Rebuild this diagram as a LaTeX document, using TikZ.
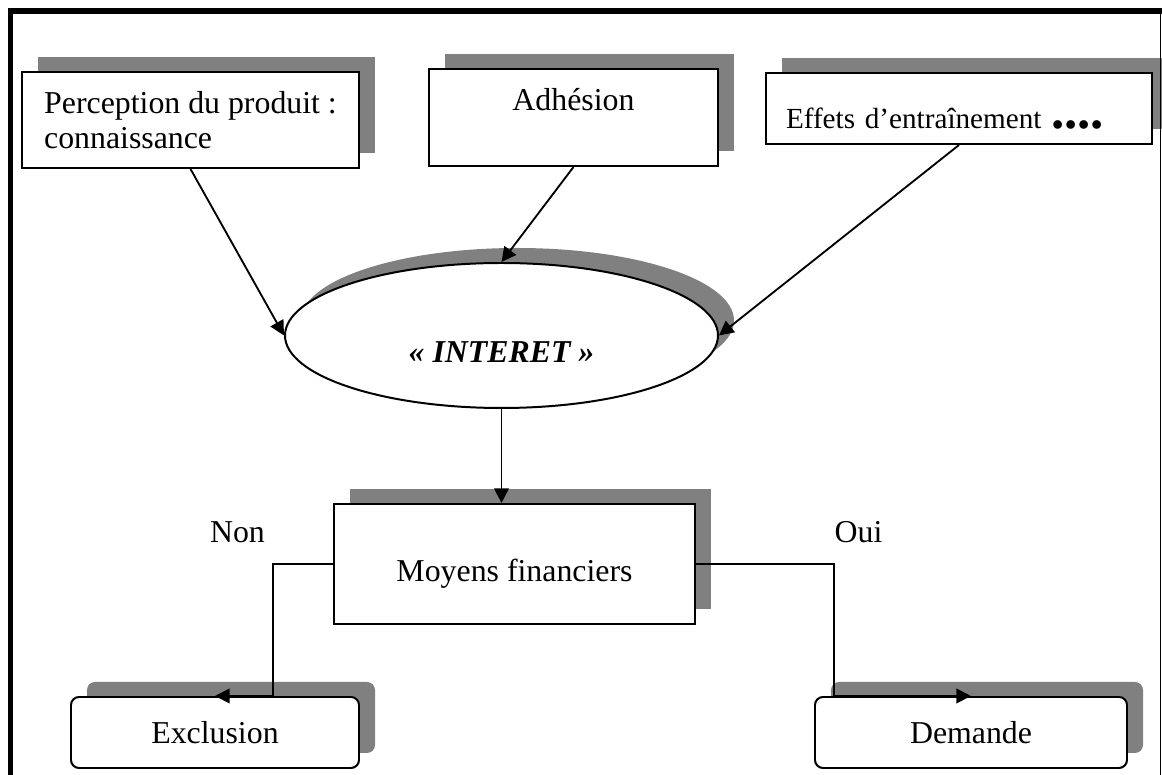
\documentclass[tikz,border=0pt]{standalone}
\usepackage{fontspec}
\setmainfont{Liberation Serif}
\usetikzlibrary{shapes.geometric,shadows,arrows.meta}
\newdimen\px \px=0.377pt
\tikzset{
  shadowed/.style = {draw, line width=0.75pt, fill=white,
    drop shadow={shadow xshift=16\px, shadow yshift=15\px, fill=gray, opacity=1}},
  topbox/.style = {shadowed, rectangle, inner xsep=20\px, inner ysep=0pt},
  endbox/.style = {shadowed, rectangle, rounded corners=8\px, minimum height=71\px},
  link/.style = {line width=0.7pt, -{Triangle[length=5.5pt,width=5.5pt]}},
}
\begin{document}
\begin{tikzpicture}[x=0.377pt, y=-0.377pt, font=\fontsize{12}{13.2}\selectfont]
            \useasboundingbox (0,0) rectangle (1162,775);
            \node[topbox, minimum width=337\px, minimum height=96\px, align=left] (perception) at (190.5,120) {Perception du produit :\\connaissance};
            \node[topbox, minimum width=289\px, minimum height=97\px, text height=8.5pt, text depth=14pt] (adhesion) at (573.5,117.5) {Adhésion};
            \node[topbox, text width=346\px, minimum height=71\px, align=left, text height=14.8pt, text depth=0pt, font=\fontsize{11}{13}\selectfont] (effets) at (959,108.5) {Effets d'entraînement {\fontsize{20}{20}\selectfont\bfseries ....}};
            \node[shadowed, ellipse, minimum width=433\px, minimum height=145\px, text height=20pt, text depth=0pt, font=\fontsize{12}{13.2}\selectfont\bfseries\itshape] (interet) at (501.5,335.5) {« INTERET »};
            \node[shadowed, rectangle, minimum width=361\px, minimum height=120\px, text height=16pt, text depth=2.6pt] (moyens) at (514.5,564) {Moyens financiers};
            \node[endbox, minimum width=288\px] (exclusion) at (215,732.5) {Exclusion};
            \node[endbox, minimum width=312\px] (demande) at (971,732.5) {Demande};
            \node[anchor=base] (non) at (237.5,543) {Non};
            \node[anchor=base] (oui) at (858.5,543) {Oui};
            \draw[link] (perception.south) -- (interet.west);
            \draw[link] (adhesion.south) -- (interet.north);
            \draw[link] (effets.south) -- (interet.east);
            \draw[link] (interet.south) -- (interet.south |- moyens.north);
            \draw[link] (moyens.west) -- ++(-60,0) |- (exclusion.north);
            \draw[link] (moyens.east) -- ++(138,0) |- (demande.north);
            \draw[line width=2.2pt] (8,11) -- (1162,11);
            \draw[line width=1.9pt] (10.5,8) -- (10.5,775);
            \draw[line width=0.6pt] (1160.5,11) -- (1160.5,775);
        \end{tikzpicture}
\end{document}
